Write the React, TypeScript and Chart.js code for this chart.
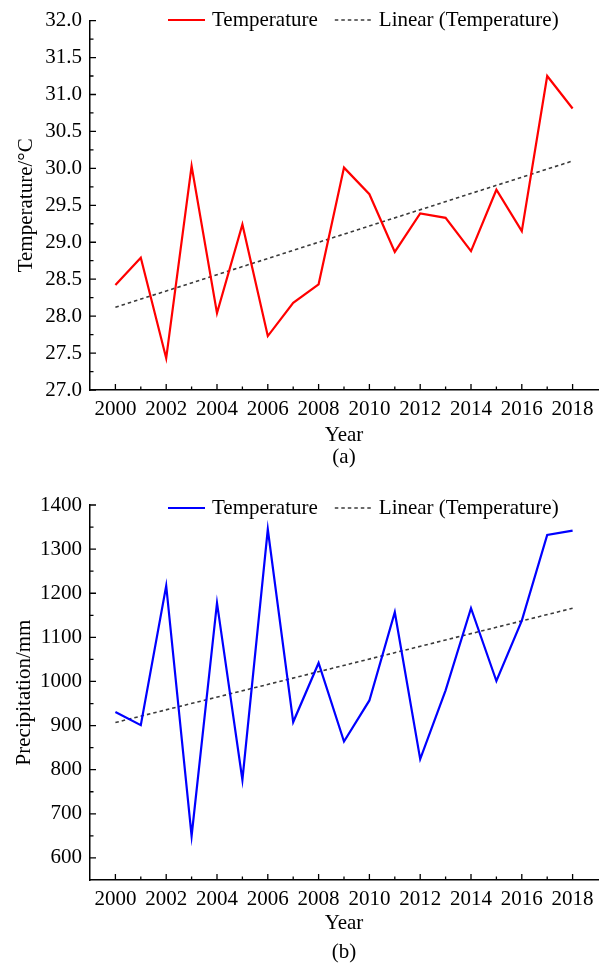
import React, { useEffect, useRef } from "react";
import { Chart, registerables } from "chart.js";

Chart.register(...registerables);

// ---------------- data ----------------
const years = [
  2000, 2001, 2002, 2003, 2004, 2005, 2006, 2007, 2008, 2009,
  2010, 2011, 2012, 2013, 2014, 2015, 2016, 2017, 2018,
];
const temperature = [
  28.42, 28.79, 27.43, 30.03, 28.04, 29.24, 27.73, 28.18, 28.43, 30.01,
  29.65, 28.87, 29.39, 29.33, 28.88, 29.71, 29.15, 31.25, 30.81,
];
const precipitation = [
  931, 901, 1217, 650, 1178, 777, 1345, 908, 1042, 864,
  957, 1157, 824, 980, 1166, 1001, 1138, 1332, 1342,
];
const trendYears = [2000, 2018];
const temperatureTrend = [28.12, 30.1];
const precipitationTrend = [907, 1166];

const yearTicks = [2000, 2002, 2004, 2006, 2008, 2010, 2012, 2014, 2016, 2018];
const temperatureTicks = [27.0, 27.5, 28.0, 28.5, 29.0, 29.5, 30.0, 30.5, 31.0, 31.5, 32.0];
const precipitationTicks = [600, 700, 800, 900, 1000, 1100, 1200, 1300, 1400];

const seriesLabel = "Temperature";
const trendLabel = "Linear (Temperature)";

const FONT = '"Liberation Serif", "Times New Roman", serif';
const FONT_SIZE = 21;

// ---------------- plugins ----------------
const innerTicks = {
  id: "innerTicks",
  afterDraw(chart: any) {
    const { ctx, chartArea } = chart;
    const xs = chart.scales.x;
    const ys = chart.scales.y;
    ctx.save();
    ctx.strokeStyle = "#000";
    ctx.lineWidth = 1.3;
    ctx.beginPath();
    const xt = xs.ticks.map((t: any) => t.value);
    for (let i = 0; i < xt.length; i++) {
      const px = xs.getPixelForValue(xt[i]);
      ctx.moveTo(px, chartArea.bottom);
      ctx.lineTo(px, chartArea.bottom - 6);
      if (i < xt.length - 1) {
        const mx = xs.getPixelForValue((xt[i] + xt[i + 1]) / 2);
        ctx.moveTo(mx, chartArea.bottom);
        ctx.lineTo(mx, chartArea.bottom - 3.5);
      }
    }
    const yt = ys.ticks.map((t: any) => t.value);
    for (let i = 0; i < yt.length; i++) {
      const py = ys.getPixelForValue(yt[i]);
      ctx.moveTo(chartArea.left, py);
      ctx.lineTo(chartArea.left + 6, py);
      if (i < yt.length - 1) {
        const my = ys.getPixelForValue((yt[i] + yt[i + 1]) / 2);
        ctx.moveTo(chartArea.left, my);
        ctx.lineTo(chartArea.left + 3.5, my);
      }
    }
    ctx.stroke();
    ctx.restore();
  },
};

const insideLegend = {
  id: "insideLegend",
  afterDraw(chart: any, _args: any, opts: any) {
    const { ctx } = chart;
    ctx.save();
    ctx.font = `${FONT_SIZE}px ${FONT}`;
    ctx.textBaseline = "middle";
    ctx.textAlign = "left";
    let x = opts.x;
    const y = opts.y;
    chart.data.datasets.forEach((ds: any) => {
      ctx.strokeStyle = ds.borderColor;
      ctx.lineWidth = ds.borderWidth;
      ctx.setLineDash(ds.borderDash || []);
      ctx.beginPath();
      ctx.moveTo(x, y);
      ctx.lineTo(x + 37, y);
      ctx.stroke();
      ctx.setLineDash([]);
      ctx.fillStyle = "#000";
      ctx.fillText(ds.label, x + 44, y);
      x += 44 + ctx.measureText(ds.label).width + 17;
    });
    ctx.restore();
  },
};

// ---------------- chart component ----------------
type PanelProps = {
  width: number;
  height: number;
  top: number;
  xHeight: number;
  values: number[];
  trend: number[];
  color: string;
  yMin: number;
  yMax: number;
  yTicks: number[];
  decimals: number;
  yTitle: string;
  yTitlePad: number;
  legendY: number;
};

function Panel(p: PanelProps) {
  const ref = useRef<HTMLCanvasElement | null>(null);
  useEffect(() => {
    if (!ref.current) return;
    const font = { family: FONT, size: FONT_SIZE };
    const chart = new Chart(ref.current, {
      type: "line",
      data: {
        datasets: [
          {
            label: seriesLabel,
            data: years.map((yr, i) => ({ x: yr, y: p.values[i] })),
            borderColor: p.color,
            borderWidth: 2.2,
            pointRadius: 0,
            tension: 0,
            fill: false,
          },
          {
            label: trendLabel,
            data: trendYears.map((yr, i) => ({ x: yr, y: p.trend[i] })),
            borderColor: "#3a3a3a",
            borderWidth: 1.6,
            borderDash: [3.5, 3],
            pointRadius: 0,
            tension: 0,
            fill: false,
          },
        ],
      },
      options: {
        responsive: false,
        animation: false,
        layout: { padding: { top: p.top, right: 5, left: 0, bottom: 0 } },
        plugins: {
          legend: { display: false },
          tooltip: { enabled: false },
          insideLegend: { x: 168, y: p.legendY },
        } as any,
        scales: {
          x: {
            type: "linear",
            min: 1999,
            max: 2019,
            afterBuildTicks: (s: any) => {
              s.ticks = yearTicks.map((v) => ({ value: v }));
            },
            afterFit: (s: any) => {
              s.height = p.xHeight;
            },
            grid: { display: false, drawTicks: false },
            border: { display: true, color: "#000", width: 1.5 },
            ticks: {
              padding: 7,
              color: "#000",
              font,
              maxRotation: 0,
              autoSkip: false,
              callback: (v: any) => String(v),
            },
            title: {
              display: true,
              text: "Year",
              color: "#000",
              font,
              padding: { top: 0, bottom: 0 },
            },
          },
          y: {
            type: "linear",
            min: p.yMin,
            max: p.yMax,
            afterBuildTicks: (s: any) => {
              s.ticks = p.yTicks.map((v) => ({ value: v }));
            },
            afterFit: (s: any) => {
              s.width = 90;
            },
            grid: { display: false, drawTicks: false },
            border: { display: true, color: "#000", width: 1.5 },
            ticks: {
              padding: 8,
              color: "#000",
              font,
              autoSkip: false,
              callback: (v: any) => Number(v).toFixed(p.decimals),
            },
            title: {
              display: true,
              text: p.yTitle,
              color: "#000",
              font,
              padding: { top: p.yTitlePad, bottom: 0 },
            },
          },
        },
      } as any,
      plugins: [innerTicks, insideLegend],
    });
    return () => chart.destroy();
  }, []);
  return (
    <canvas
      ref={ref}
      width={p.width}
      height={p.height}
      style={{ display: "block", width: p.width, height: p.height }}
    />
  );
}

const captionStyle: React.CSSProperties = {
  position: "absolute",
  left: 90,
  width: 508,
  height: 24,
  lineHeight: "24px",
  textAlign: "center",
  fontFamily: FONT,
  fontSize: FONT_SIZE,
  color: "#000",
};

export default function App() {
  return (
    <div
      style={{
        position: "absolute",
        left: 0,
        top: 0,
        width: 603,
        height: 966,
        background: "#fff",
        overflow: "hidden",
      }}
    >
      <div style={{ position: "absolute", left: 0, top: 0 }}>
        <Panel
          width={603}
          height={448}
          top={19}
          xHeight={58}
          values={temperature}
          trend={temperatureTrend}
          color="#ff0000"
          yMin={27}
          yMax={32}
          yTicks={temperatureTicks}
          decimals={1}
          yTitle="Temperature/°C"
          yTitlePad={14}
          legendY={20}
        />
      </div>
      <div style={{ ...captionStyle, top: 444 }}>(a)</div>
      <div style={{ position: "absolute", left: 0, top: 470 }}>
        <Panel
          width={603}
          height={466}
          top={35}
          xHeight={56}
          values={precipitation}
          trend={precipitationTrend}
          color="#0000ff"
          yMin={550}
          yMax={1400}
          yTicks={precipitationTicks}
          decimals={0}
          yTitle="Precipitation/mm"
          yTitlePad={12}
          legendY={38}
        />
      </div>
      <div style={{ ...captionStyle, top: 939 }}>(b)</div>
    </div>
  );
}
